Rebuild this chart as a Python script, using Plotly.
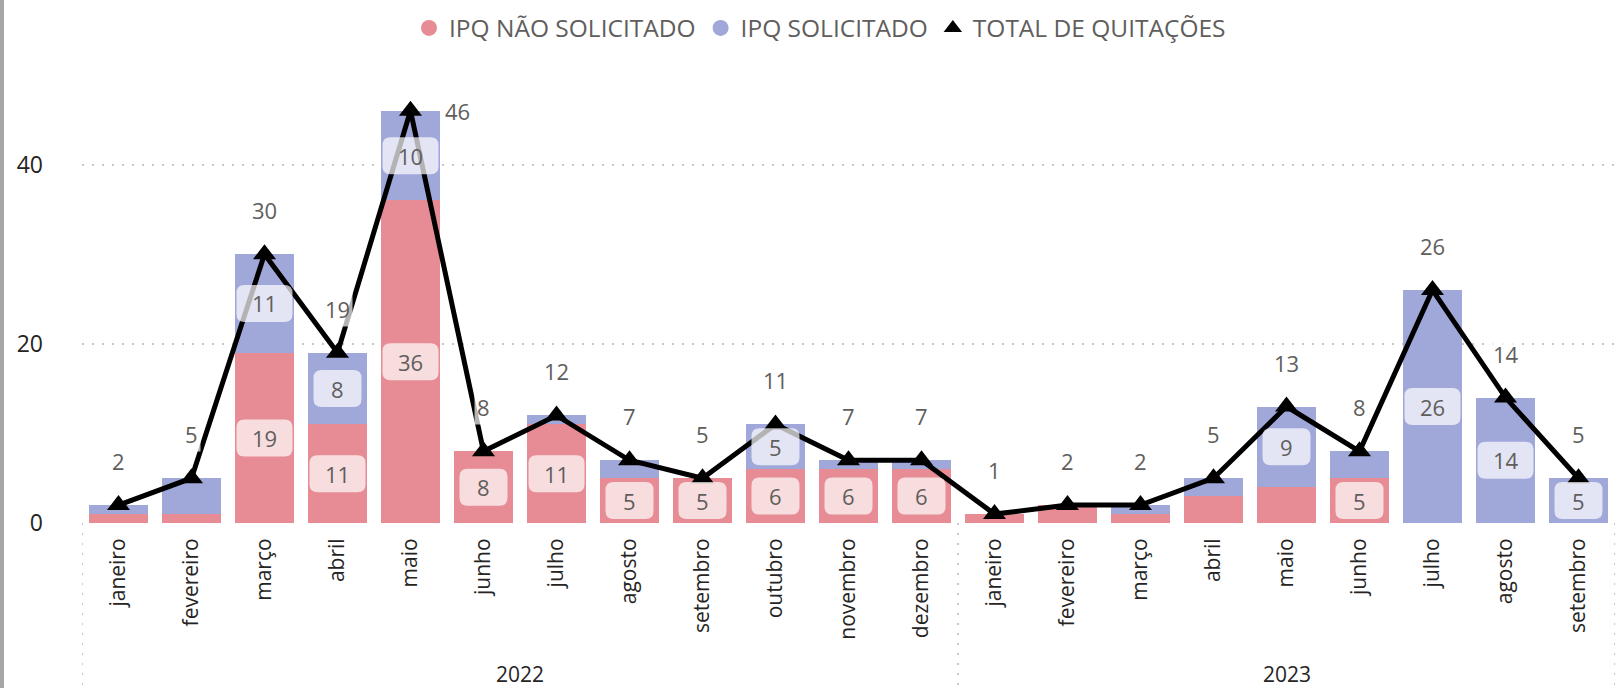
import plotly.graph_objects as go

months = ["janeiro", "fevereiro", "março", "abril", "maio", "junho", "julho",
          "agosto", "setembro", "outubro", "novembro", "dezembro",
          "janeiro", "fevereiro", "março", "abril", "maio", "junho", "julho",
          "agosto", "setembro"]
years = ["2022"] * 12 + ["2023"] * 9
ipq_nao = [1, 1, 19, 11, 36, 8, 11, 5, 5, 6, 6, 6, 1, 2, 1, 3, 4, 5, 0, 0, 0]
ipq_sol = [1, 4, 11, 8, 10, 0, 1, 2, 0, 5, 1, 1, 0, 0, 1, 2, 9, 3, 26, 14, 5]
total = [2, 5, 30, 19, 46, 8, 12, 7, 5, 11, 7, 7, 1, 2, 2, 5, 13, 8, 26, 14, 5]

RED = "#E78C95"
BLUE = "#A0A7D9"
FONT = "Segoe UI, Open Sans, sans-serif"
LABEL_GRAY = "#605E5C"
DARK = "#252423"
GRID = "#C8C8C8"

x = list(range(len(months)))

# plot area geometry (pixels)
W, H = 1619, 688
ML, MR, MT, MB = 82, 4, 75, 165
PW, PH = W - ML - MR, H - MT - MB

fig = go.Figure()
fig.add_trace(go.Bar(x=x, y=ipq_nao, name="IPQ NÃO SOLICITADO", marker_color=RED,
                     marker_line_width=0, showlegend=False))
fig.add_trace(go.Bar(x=x, y=ipq_sol, name="IPQ SOLICITADO", marker_color=BLUE,
                     marker_line_width=0, showlegend=False))
fig.add_trace(go.Scatter(x=x, y=total, mode="lines+markers", name="TOTAL DE QUITAÇÕES",
                         line=dict(color="black", width=5),
                         marker=dict(symbol="triangle-up", size=20, color="black"),
                         showlegend=False))

# legend entries
fig.add_trace(go.Scatter(x=[None], y=[None], mode="markers", name="IPQ NÃO SOLICITADO",
                         marker=dict(symbol="circle", size=16, color=RED)))
fig.add_trace(go.Scatter(x=[None], y=[None], mode="markers", name="IPQ SOLICITADO",
                         marker=dict(symbol="circle", size=16, color=BLUE)))
fig.add_trace(go.Scatter(x=[None], y=[None], mode="markers", name="TOTAL DE QUITAÇÕES",
                         marker=dict(symbol="triangle-up", size=16, color="black")))

annotations = []
shapes = []


def rounded_path(w, h, r):
    a, b = w / 2, h / 2
    return (f"M{-a + r},{-b} L{a - r},{-b} Q{a},{-b} {a},{-b + r} "
            f"L{a},{b - r} Q{a},{b} {a - r},{b} L{-a + r},{b} Q{-a},{b} {-a},{b - r} "
            f"L{-a},{-b + r} Q{-a},{-b} {-a + r},{-b} Z")


def seg_label(xi, yc, v):
    w = 48 if v < 10 else 56
    shapes.append(dict(type="path", xref="x", yref="y", xsizemode="pixel",
                       ysizemode="pixel", xanchor=xi, yanchor=yc,
                       path=rounded_path(w, 37, 8), layer="above",
                       fillcolor="rgba(255,255,255,0.7)", line=dict(width=0)))
    annotations.append(dict(x=xi, y=yc, xref="x", yref="y", text=str(v), showarrow=False,
                            font=dict(family=FONT, size=22, color=LABEL_GRAY)))


for i in x:
    if ipq_nao[i] >= 5:
        seg_label(i, ipq_nao[i] / 2, ipq_nao[i])
    if ipq_sol[i] >= 5:
        seg_label(i, ipq_nao[i] + ipq_sol[i] / 2, ipq_sol[i])

# total labels
tmax = max(total)
for i in x:
    is_max = total[i] == tmax
    annotations.append(dict(x=i, y=total[i], xref="x", yref="y", text=str(total[i]),
                            showarrow=False,
                            font=dict(family=FONT, size=22, color=LABEL_GRAY),
                            bgcolor="rgba(255,255,255,0.7)", borderpad=2,
                            xshift=47 if is_max else 0, yshift=0 if is_max else 44))

# year labels
for yr in ["2022", "2023"]:
    idx = [i for i in x if years[i] == yr]
    annotations.append(dict(x=(idx[0] + idx[-1]) / 2, y=-(674 - (MT + PH)) / PH,
                            xref="x", yref="paper", text=yr, showarrow=False,
                            yanchor="middle",
                            font=dict(family=FONT, size=21, color=DARK)))

# year dividers
bounds = [-0.5] + [i + 0.5 for i in x[:-1] if years[i] != years[i + 1]] + [len(x) - 0.5]
for b in bounds:
    shapes.append(dict(type="line", xref="x", yref="paper", x0=b, x1=b, y0=0,
                       y1=-(H - (MT + PH)) / PH,
                       line=dict(color=GRID, width=2, dash="2px,8px")))
# left gray border
shapes.append(dict(type="rect", xref="paper", yref="paper",
                   x0=-ML / PW, x1=-(ML - 4) / PW, y0=-MB / PH, y1=1 + MT / PH,
                   fillcolor="#A6A6A6", line=dict(width=0)))

fig.update_layout(
    width=W, height=H,
    margin=dict(l=ML, r=MR, t=MT, b=MB, autoexpand=False),
    barmode="stack", bargap=0.2,
    plot_bgcolor="white", paper_bgcolor="white",
    font=dict(family=FONT, color=DARK),
    legend=dict(orientation="h", x=(820 - ML) / PW, xanchor="center",
                y=1 + (MT - 28) / PH, yanchor="middle",
                font=dict(family=FONT, size=24.5, color=LABEL_GRAY),
                itemsizing="trace", traceorder="normal", itemwidth=30,
                bgcolor="rgba(0,0,0,0)"),
    annotations=annotations,
    shapes=shapes,
    xaxis=dict(range=[-0.5, len(x) - 0.5], tickvals=x, ticktext=months,
               tickangle=-90, showgrid=False, zeroline=False, showline=False,
               ticks="outside", ticklen=6, tickcolor="rgba(0,0,0,0)", automargin=False,
               tickfont=dict(family=FONT, size=21, color=DARK), fixedrange=True),
    yaxis=dict(range=[0, 50], tickvals=[0, 20, 40], showgrid=True,
               gridcolor=GRID, griddash="2px,8px", gridwidth=2, automargin=False,
               zeroline=False, showline=False, ticklabelstandoff=38,
               tickfont=dict(family=FONT, size=23, color=DARK)),
)

fig.write_html("out.html", config={"displayModeBar": False},
               post_script="document.body.style.margin='0';document.body.style.overflow='hidden';")
